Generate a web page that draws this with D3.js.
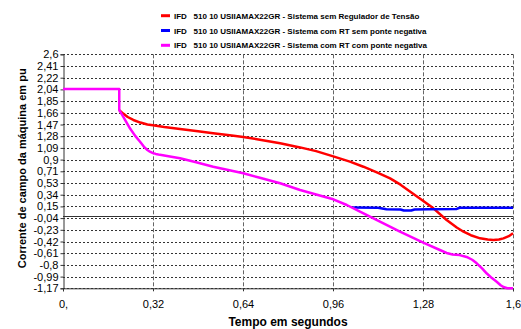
<!DOCTYPE html>
<html>
<head>
<meta charset="utf-8">
<script src="https://cdn.jsdelivr.net/npm/d3@7"></script>
<style>
  html, body { margin: 0; padding: 0; background: #fff; }
  svg { display: block; font-family: "Liberation Sans", Arial, sans-serif; }
</style>
</head>
<body>
<svg id="chart" width="521" height="329"></svg>
<script>
// Field current of the machine (pu) versus time (s) for three regulation cases
const seriesNames = [
  "IFD   510 10 USIIAMAX22GR - Sistema sem Regulador de Tensão",
  "IFD   510 10 USIIAMAX22GR - Sistema com RT sem ponte negativa",
  "IFD   510 10 USIIAMAX22GR - Sistema com RT com ponte negativa"
];
const seriesColors = ["#ff0000", "#0000ff", "#ff00ff"];

// Without voltage regulator
const semRegulador = [
  [0.200,1.700],[0.214,1.645],[0.230,1.590],[0.250,1.542],[0.275,1.500],[0.300,1.470],
  [0.320,1.458],[0.360,1.430],[0.416,1.397],[0.480,1.360],[0.534,1.327],[0.600,1.290],
  [0.641,1.268],[0.700,1.225],[0.772,1.166],[0.843,1.100],[0.900,1.040],[0.961,0.955],
  [1.020,0.870],[1.068,0.789],[1.120,0.690],[1.163,0.600],[1.200,0.500],[1.246,0.350],
  [1.280,0.240],[1.317,0.118],[1.364,-0.070],[1.400,-0.190],[1.424,-0.258],[1.450,-0.315],
  [1.483,-0.365],[1.510,-0.385],[1.530,-0.392],[1.550,-0.385],[1.566,-0.365],[1.585,-0.330],
  [1.600,-0.284]
];

// With regulator, no negative bridge (follows the next series until it levels off)
const rtSemPonte = [
  [1.030,0.130],[1.120,0.127],[1.150,0.105],[1.200,0.100],[1.212,0.083],[1.238,0.083],
  [1.250,0.100],[1.300,0.105],[1.400,0.108],[1.410,0.128],[1.600,0.128]
];

// With regulator and negative bridge
const rtComPonte = [
  [0,2.04],[0.2,2.04],[0.2,1.70],[0.214,1.595],[0.238,1.408],[0.256,1.290],[0.274,1.192],
  [0.290,1.100],[0.300,1.058],[0.309,1.031],[0.320,1.008],[0.330,0.995],[0.345,0.980],
  [0.380,0.955],[0.416,0.925],[0.470,0.865],[0.534,0.789],[0.641,0.683],[0.700,0.610],
  [0.772,0.522],[0.843,0.414],[0.900,0.340],[0.961,0.264],[1.009,0.172],[1.056,0.064],
  [1.127,-0.097],[1.198,-0.258],[1.281,-0.435],[1.340,-0.553],[1.364,-0.600],[1.385,-0.625],
  [1.410,-0.635],[1.435,-0.665],[1.455,-0.710],[1.471,-0.767],[1.490,-0.850],[1.506,-0.928],
  [1.525,-1.005],[1.542,-1.064],[1.556,-1.120],[1.566,-1.150],[1.580,-1.170],[1.600,-1.170]
];

const xTickValues = [0, 0.32, 0.64, 0.96, 1.28, 1.6];
const xTickLabels = ["0,", "0,32", "0,64", "0,96", "1,28", "1,6"];
const yTickLabels = ["-1,17","-0,99","-0,8","-0,61","-0,42","-0,23","-0,04","0,15","0,34","0,53",
                     "0,71","0,9","1,09","1,28","1,47","1,66","1,85","2,04","2,22","2,41","2,6"];
const yMin = -1.17, yMax = 2.6;

const svg = d3.select("#chart");
const plotLeft = 63, plotRight = 513, plotTop = 54.3, plotBottom = 288.3;

const x = d3.scaleLinear().domain([0, 1.6]).range([plotLeft, plotRight]);
const y = d3.scaleLinear().domain([yMin, yMax]).range([plotBottom, plotTop]);
const yTickValues = d3.range(yTickLabels.length).map(i => yMin + i * (yMax - yMin) / (yTickLabels.length - 1));

// Horizontal dotted grid
svg.append("g").selectAll("line").data(yTickValues).join("line")
  .attr("x1", plotLeft).attr("x2", plotRight)
  .attr("y1", d => Math.round(y(d)) + 0.5).attr("y2", d => Math.round(y(d)) + 0.5)
  .attr("stroke", "#333").attr("stroke-width", 1).attr("stroke-dasharray", "2,2");

// Vertical dashed grid
svg.append("g").selectAll("line").data(xTickValues.slice(1)).join("line")
  .attr("x1", d => Math.round(x(d)) + 0.5).attr("x2", d => Math.round(x(d)) + 0.5)
  .attr("y1", plotTop).attr("y2", plotBottom)
  .attr("stroke", "#666").attr("stroke-width", 1).attr("stroke-dasharray", "4,2");

// Zero line
svg.append("line")
  .attr("x1", plotLeft).attr("x2", plotRight)
  .attr("y1", Math.round(y(0)) + 0.5).attr("y2", Math.round(y(0)) + 0.5)
  .attr("stroke", "#333").attr("stroke-width", 1);

// Axes
const yAxis = d3.axisLeft(y).tickValues(yTickValues)
  .tickFormat((d, i) => yTickLabels[i]).tickSize(3).tickPadding(2);
const gy = svg.append("g").attr("transform", `translate(${plotLeft + 0.5},0)`).call(yAxis);
gy.select(".domain").attr("stroke", "#333");
gy.selectAll(".tick line").attr("stroke", "#333");
gy.selectAll(".tick text").attr("font-size", 11).attr("fill", "#000")
  .attr("font-family", "Liberation Sans, Arial, sans-serif");

const xAxis = d3.axisBottom(x).tickValues(xTickValues)
  .tickFormat((d, i) => xTickLabels[i]).tickSize(3).tickPadding(9);
const gx = svg.append("g").attr("transform", `translate(0,${plotBottom})`).call(xAxis);
gx.select(".domain").attr("stroke", "#333");
gx.selectAll(".tick line").attr("stroke", "#333");
gx.selectAll(".tick text").attr("font-size", 11).attr("fill", "#000")
  .attr("font-family", "Liberation Sans, Arial, sans-serif");

// Series
const line = d3.line().x(d => x(d[0])).y(d => y(d[1])).curve(d3.curveLinear);
const seriesData = [semRegulador, rtSemPonte, rtComPonte];
svg.append("g").selectAll("path").data(seriesData).join("path")
  .attr("d", line)
  .attr("fill", "none")
  .attr("stroke", (d, i) => seriesColors[i])
  .attr("stroke-width", 2.5)
  .attr("stroke-linejoin", "round");

// Axis titles
svg.append("text")
  .attr("x", (plotLeft + plotRight) / 2).attr("y", 326)
  .attr("text-anchor", "middle").attr("font-size", 12).attr("font-weight", "bold")
  .text("Tempo em segundos");
svg.append("text")
  .attr("transform", `translate(26,${(plotTop + plotBottom) / 2 - 3}) rotate(-90)`)
  .attr("text-anchor", "middle").attr("font-size", 11).attr("font-weight", "bold")
  .text("Corrente de campo da máquina em pu");

// Legend
const legend = svg.append("g").selectAll("g").data(seriesNames).join("g")
  .attr("transform", (d, i) => `translate(161,${15.7 + i * 14.8})`);
legend.append("line")
  .attr("x1", 0).attr("x2", 9).attr("y1", 0).attr("y2", 0)
  .attr("stroke", (d, i) => seriesColors[i]).attr("stroke-width", 3);
legend.append("text")
  .attr("x", 13).attr("y", 3)
  .attr("font-size", 8).attr("font-weight", "bold")
  .style("white-space", "pre")
  .text(d => d);
</script>
</body>
</html>
